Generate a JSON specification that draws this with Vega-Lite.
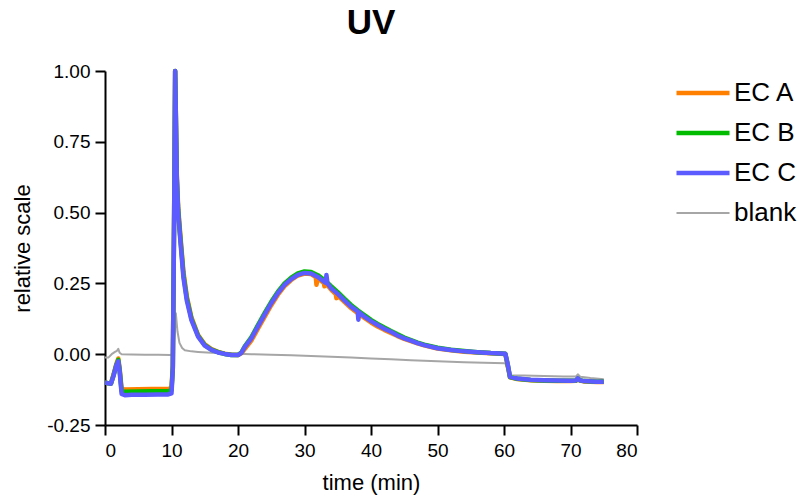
{
  "$schema": "https://vega.github.io/schema/vega-lite/v6.json",
  "width": 532,
  "height": 354,
  "autosize": {"type": "none"},
  "padding": {"left": 105, "top": 71, "right": 160, "bottom": 76},
  "background": "white",
  "title": {"text": "UV", "fontSize": 35, "fontWeight": "bold", "font": "Liberation Sans", "color": "black", "anchor": "middle", "offset": 21},
  "config": {"view": {"stroke": null}, "font": "Liberation Sans"},
  "datasets": {
    "uv": [
      {"s":"blank","t":0,"v":-0.012},{"s":"blank","t":0.5,"v":-0.012},{"s":"blank","t":1,"v":0.0},{"s":"blank","t":1.5,"v":0.008},{"s":"blank","t":1.8,"v":0.012},{"s":"blank","t":2.0,"v":0.019},{"s":"blank","t":2.2,"v":0.005},{"s":"blank","t":2.5,"v":0.0},{"s":"blank","t":4,"v":-0.001},{"s":"blank","t":6,"v":-0.002},{"s":"blank","t":8,"v":-0.002},{"s":"blank","t":9.8,"v":-0.003},{"s":"blank","t":10.2,"v":0.0},{"s":"blank","t":10.5,"v":0.08},{"s":"blank","t":10.65,"v":0.145},{"s":"blank","t":10.9,"v":0.08},{"s":"blank","t":11.2,"v":0.04},{"s":"blank","t":11.6,"v":0.022},{"s":"blank","t":12,"v":0.014},{"s":"blank","t":13,"v":0.01},{"s":"blank","t":14,"v":0.008},{"s":"blank","t":16,"v":0.005},{"s":"blank","t":18,"v":0.003},{"s":"blank","t":20,"v":0.002},{"s":"blank","t":22,"v":0.0},{"s":"blank","t":25,"v":-0.002},{"s":"blank","t":28,"v":-0.004},{"s":"blank","t":31,"v":-0.006},{"s":"blank","t":34,"v":-0.009},{"s":"blank","t":37,"v":-0.012},{"s":"blank","t":40,"v":-0.015},{"s":"blank","t":43,"v":-0.018},{"s":"blank","t":46,"v":-0.021},{"s":"blank","t":50,"v":-0.025},{"s":"blank","t":54,"v":-0.028},{"s":"blank","t":57,"v":-0.03},{"s":"blank","t":60.2,"v":-0.032},{"s":"blank","t":60.6,"v":-0.06},{"s":"blank","t":60.9,"v":-0.074},{"s":"blank","t":63,"v":-0.075},{"s":"blank","t":66,"v":-0.077},{"s":"blank","t":69,"v":-0.079},{"s":"blank","t":70.8,"v":-0.079},{"s":"blank","t":71.1,"v":-0.071},{"s":"blank","t":71.5,"v":-0.08},{"s":"blank","t":73,"v":-0.084},{"s":"blank","t":75,"v":-0.088},

      {"s":"EC A","t":0,"v":-0.1},{"s":"EC A","t":0.5,"v":-0.103},{"s":"EC A","t":0.9,"v":-0.103},{"s":"EC A","t":1.3,"v":-0.07},{"s":"EC A","t":1.7,"v":-0.035},{"s":"EC A","t":2.0,"v":-0.015},{"s":"EC A","t":2.2,"v":-0.05},{"s":"EC A","t":2.5,"v":-0.122},{"s":"EC A","t":3,"v":-0.125},{"s":"EC A","t":5,"v":-0.124},{"s":"EC A","t":7,"v":-0.123},{"s":"EC A","t":9.5,"v":-0.123},{"s":"EC A","t":10.0,"v":-0.12},{"s":"EC A","t":10.2,"v":-0.04},{"s":"EC A","t":10.4,"v":0.5},{"s":"EC A","t":10.55,"v":1.0},{"s":"EC A","t":10.8,"v":0.63},{"s":"EC A","t":11.0,"v":0.52},{"s":"EC A","t":11.3,"v":0.43},{"s":"EC A","t":11.8,"v":0.29},{"s":"EC A","t":12.3,"v":0.205},{"s":"EC A","t":13,"v":0.13},{"s":"EC A","t":14,"v":0.068},{"s":"EC A","t":15,"v":0.035},{"s":"EC A","t":16,"v":0.018},{"s":"EC A","t":17,"v":0.008},{"s":"EC A","t":18,"v":0.002},{"s":"EC A","t":19,"v":-0.002},{"s":"EC A","t":20,"v":-0.003},{"s":"EC A","t":20.5,"v":0.003},{"s":"EC A","t":21,"v":0.018},{"s":"EC A","t":22,"v":0.048},{"s":"EC A","t":23,"v":0.09},{"s":"EC A","t":24,"v":0.132},{"s":"EC A","t":25,"v":0.173},{"s":"EC A","t":26,"v":0.21},{"s":"EC A","t":27,"v":0.24},{"s":"EC A","t":28,"v":0.262},{"s":"EC A","t":29,"v":0.278},{"s":"EC A","t":30,"v":0.285},{"s":"EC A","t":31,"v":0.283},{"s":"EC A","t":31.7,"v":0.272},{"s":"EC A","t":31.8,"v":0.245},{"s":"EC A","t":32,"v":0.268},{"s":"EC A","t":32.9,"v":0.252},{"s":"EC A","t":33.0,"v":0.24},{"s":"EC A","t":33.2,"v":0.25},{"s":"EC A","t":34,"v":0.228},{"s":"EC A","t":34.7,"v":0.212},{"s":"EC A","t":34.8,"v":0.198},{"s":"EC A","t":35,"v":0.207},{"s":"EC A","t":36,"v":0.185},{"s":"EC A","t":37,"v":0.163},{"s":"EC A","t":38,"v":0.145},{"s":"EC A","t":39,"v":0.128},{"s":"EC A","t":40,"v":0.112},{"s":"EC A","t":41,"v":0.098},{"s":"EC A","t":42,"v":0.086},{"s":"EC A","t":43,"v":0.075},{"s":"EC A","t":44,"v":0.064},{"s":"EC A","t":45,"v":0.054},{"s":"EC A","t":46,"v":0.046},{"s":"EC A","t":47,"v":0.038},{"s":"EC A","t":48,"v":0.031},{"s":"EC A","t":50,"v":0.02},{"s":"EC A","t":52,"v":0.014},{"s":"EC A","t":54,"v":0.009},{"s":"EC A","t":56,"v":0.006},{"s":"EC A","t":58,"v":0.003},{"s":"EC A","t":60.2,"v":0.001},{"s":"EC A","t":60.6,"v":-0.045},{"s":"EC A","t":60.9,"v":-0.082},{"s":"EC A","t":62,"v":-0.088},{"s":"EC A","t":64,"v":-0.092},{"s":"EC A","t":66,"v":-0.094},{"s":"EC A","t":68,"v":-0.095},{"s":"EC A","t":70,"v":-0.095},{"s":"EC A","t":70.8,"v":-0.094},{"s":"EC A","t":71.1,"v":-0.087},{"s":"EC A","t":71.4,"v":-0.093},{"s":"EC A","t":72,"v":-0.096},{"s":"EC A","t":74,"v":-0.098},{"s":"EC A","t":75,"v":-0.098},

      {"s":"EC B","t":0,"v":-0.1},{"s":"EC B","t":0.5,"v":-0.103},{"s":"EC B","t":0.9,"v":-0.104},{"s":"EC B","t":1.3,"v":-0.073},{"s":"EC B","t":1.7,"v":-0.038},{"s":"EC B","t":2.0,"v":-0.02},{"s":"EC B","t":2.2,"v":-0.055},{"s":"EC B","t":2.5,"v":-0.13},{"s":"EC B","t":3,"v":-0.133},{"s":"EC B","t":5,"v":-0.132},{"s":"EC B","t":7,"v":-0.131},{"s":"EC B","t":9.5,"v":-0.131},{"s":"EC B","t":10.0,"v":-0.128},{"s":"EC B","t":10.2,"v":-0.045},{"s":"EC B","t":10.4,"v":0.5},{"s":"EC B","t":10.55,"v":1.0},{"s":"EC B","t":10.8,"v":0.62},{"s":"EC B","t":11.0,"v":0.51},{"s":"EC B","t":11.3,"v":0.42},{"s":"EC B","t":11.8,"v":0.28},{"s":"EC B","t":12.3,"v":0.198},{"s":"EC B","t":13,"v":0.125},{"s":"EC B","t":14,"v":0.065},{"s":"EC B","t":15,"v":0.032},{"s":"EC B","t":16,"v":0.016},{"s":"EC B","t":17,"v":0.007},{"s":"EC B","t":18,"v":0.001},{"s":"EC B","t":19,"v":-0.003},{"s":"EC B","t":20,"v":-0.003},{"s":"EC B","t":20.5,"v":0.006},{"s":"EC B","t":21,"v":0.027},{"s":"EC B","t":22,"v":0.06},{"s":"EC B","t":23,"v":0.103},{"s":"EC B","t":24,"v":0.145},{"s":"EC B","t":25,"v":0.185},{"s":"EC B","t":26,"v":0.221},{"s":"EC B","t":27,"v":0.25},{"s":"EC B","t":28,"v":0.27},{"s":"EC B","t":29,"v":0.285},{"s":"EC B","t":30,"v":0.292},{"s":"EC B","t":31,"v":0.29},{"s":"EC B","t":32,"v":0.279},{"s":"EC B","t":33,"v":0.262},{"s":"EC B","t":34,"v":0.24},{"s":"EC B","t":35,"v":0.219},{"s":"EC B","t":36,"v":0.196},{"s":"EC B","t":37,"v":0.174},{"s":"EC B","t":38,"v":0.155},{"s":"EC B","t":39,"v":0.138},{"s":"EC B","t":40,"v":0.121},{"s":"EC B","t":41,"v":0.107},{"s":"EC B","t":42,"v":0.094},{"s":"EC B","t":43,"v":0.082},{"s":"EC B","t":44,"v":0.07},{"s":"EC B","t":45,"v":0.059},{"s":"EC B","t":46,"v":0.05},{"s":"EC B","t":47,"v":0.041},{"s":"EC B","t":48,"v":0.034},{"s":"EC B","t":50,"v":0.023},{"s":"EC B","t":52,"v":0.016},{"s":"EC B","t":54,"v":0.011},{"s":"EC B","t":56,"v":0.007},{"s":"EC B","t":58,"v":0.004},{"s":"EC B","t":60.2,"v":0.002},{"s":"EC B","t":60.6,"v":-0.042},{"s":"EC B","t":60.9,"v":-0.081},{"s":"EC B","t":62,"v":-0.087},{"s":"EC B","t":64,"v":-0.091},{"s":"EC B","t":66,"v":-0.093},{"s":"EC B","t":68,"v":-0.094},{"s":"EC B","t":70,"v":-0.094},{"s":"EC B","t":70.8,"v":-0.093},{"s":"EC B","t":71.1,"v":-0.086},{"s":"EC B","t":71.4,"v":-0.092},{"s":"EC B","t":72,"v":-0.095},{"s":"EC B","t":74,"v":-0.097},{"s":"EC B","t":75,"v":-0.096},

      {"s":"EC C","t":0,"v":-0.1},{"s":"EC C","t":0.5,"v":-0.103},{"s":"EC C","t":0.9,"v":-0.104},{"s":"EC C","t":1.3,"v":-0.075},{"s":"EC C","t":1.7,"v":-0.04},{"s":"EC C","t":2.0,"v":-0.025},{"s":"EC C","t":2.2,"v":-0.06},{"s":"EC C","t":2.5,"v":-0.14},{"s":"EC C","t":3,"v":-0.145},{"s":"EC C","t":4,"v":-0.143},{"s":"EC C","t":6,"v":-0.143},{"s":"EC C","t":8,"v":-0.142},{"s":"EC C","t":9.5,"v":-0.142},{"s":"EC C","t":10.0,"v":-0.138},{"s":"EC C","t":10.2,"v":-0.05},{"s":"EC C","t":10.4,"v":0.5},{"s":"EC C","t":10.55,"v":1.0},{"s":"EC C","t":10.8,"v":0.62},{"s":"EC C","t":11.0,"v":0.5},{"s":"EC C","t":11.3,"v":0.41},{"s":"EC C","t":11.8,"v":0.27},{"s":"EC C","t":12.3,"v":0.19},{"s":"EC C","t":13,"v":0.12},{"s":"EC C","t":14,"v":0.062},{"s":"EC C","t":15,"v":0.03},{"s":"EC C","t":16,"v":0.015},{"s":"EC C","t":17,"v":0.006},{"s":"EC C","t":18,"v":0.001},{"s":"EC C","t":19,"v":-0.003},{"s":"EC C","t":20,"v":-0.003},{"s":"EC C","t":20.5,"v":0.005},{"s":"EC C","t":21,"v":0.025},{"s":"EC C","t":22,"v":0.056},{"s":"EC C","t":23,"v":0.098},{"s":"EC C","t":24,"v":0.14},{"s":"EC C","t":25,"v":0.18},{"s":"EC C","t":26,"v":0.216},{"s":"EC C","t":27,"v":0.245},{"s":"EC C","t":28,"v":0.265},{"s":"EC C","t":29,"v":0.28},{"s":"EC C","t":30,"v":0.287},{"s":"EC C","t":31,"v":0.285},{"s":"EC C","t":32,"v":0.273},{"s":"EC C","t":33,"v":0.255},{"s":"EC C","t":33.2,"v":0.252},{"s":"EC C","t":33.3,"v":0.28},{"s":"EC C","t":33.45,"v":0.25},{"s":"EC C","t":34,"v":0.233},{"s":"EC C","t":35,"v":0.213},{"s":"EC C","t":36,"v":0.19},{"s":"EC C","t":37,"v":0.168},{"s":"EC C","t":38,"v":0.151},{"s":"EC C","t":38.1,"v":0.122},{"s":"EC C","t":38.2,"v":0.148},{"s":"EC C","t":39,"v":0.133},{"s":"EC C","t":40,"v":0.117},{"s":"EC C","t":41,"v":0.103},{"s":"EC C","t":42,"v":0.09},{"s":"EC C","t":43,"v":0.079},{"s":"EC C","t":44,"v":0.066},{"s":"EC C","t":45,"v":0.056},{"s":"EC C","t":46,"v":0.048},{"s":"EC C","t":47,"v":0.039},{"s":"EC C","t":48,"v":0.032},{"s":"EC C","t":50,"v":0.021},{"s":"EC C","t":52,"v":0.015},{"s":"EC C","t":54,"v":0.01},{"s":"EC C","t":56,"v":0.007},{"s":"EC C","t":58,"v":0.004},{"s":"EC C","t":60.2,"v":0.002},{"s":"EC C","t":60.6,"v":-0.04},{"s":"EC C","t":60.9,"v":-0.08},{"s":"EC C","t":62,"v":-0.086},{"s":"EC C","t":64,"v":-0.09},{"s":"EC C","t":66,"v":-0.092},{"s":"EC C","t":68,"v":-0.093},{"s":"EC C","t":70,"v":-0.094},{"s":"EC C","t":70.8,"v":-0.093},{"s":"EC C","t":71.1,"v":-0.085},{"s":"EC C","t":71.4,"v":-0.092},{"s":"EC C","t":72,"v":-0.095},{"s":"EC C","t":74,"v":-0.097},{"s":"EC C","t":75,"v":-0.097}
    ]
  },
  "data": {"name": "uv"},
  "mark": {"type": "line", "strokeJoin": "round", "strokeCap": "butt"},
  "encoding": {
    "x": {
      "field": "t", "type": "quantitative",
      "scale": {"domain": [0, 80], "nice": false, "zero": false},
      "axis": {
        "title": "time (min)", "values": [0, 10, 20, 30, 40, 50, 60, 70, 80], "format": "d",
        "grid": false, "domainColor": "black", "domainWidth": 2, "tickColor": "black", "tickWidth": 2, "tickSize": 10,
        "labelFontSize": 19, "labelColor": "black", "labelPadding": 6, "labelFont": "Liberation Sans",
        "titleFontSize": 22, "titleFontWeight": "normal", "titleColor": "black", "titlePadding": 12, "titleFont": "Liberation Sans"
      }
    },
    "y": {
      "field": "v", "type": "quantitative",
      "scale": {"domain": [-0.25, 1], "nice": false, "zero": false},
      "axis": {
        "title": "relative scale", "values": [-0.25, 0, 0.25, 0.5, 0.75, 1],
        "labelExpr": "replace(format(datum.value, '.2f'), '\u2212', '-')",
        "grid": false, "domainColor": "black", "domainWidth": 2, "tickColor": "black", "tickWidth": 2, "tickSize": 10,
        "labelFontSize": 19, "labelColor": "black", "labelPadding": 5, "labelFont": "Liberation Sans",
        "titleFontSize": 22, "titleFontWeight": "normal", "titleColor": "black", "titlePadding": 12, "titleFont": "Liberation Sans"
      }
    },
    "color": {
      "field": "s", "type": "nominal",
      "scale": {"domain": ["EC A", "EC B", "EC C", "blank"], "range": ["#FF8000", "#00BB00", "#5B5BFF", "#A6A6A6"]},
      "legend": {
        "title": null, "orient": "none", "legendX": 585, "legendY": 9,
        "symbolType": "M-2.65,0H2.65", "symbolSize": 400,
        "labelFontSize": 26, "labelFont": "Liberation Sans", "labelColor": "black", "labelOffset": 18,
        "rowPadding": 14, "padding": 0, "labelLimit": 200
      }
    },
    "strokeWidth": {
      "field": "s", "type": "nominal",
      "scale": {"type": "ordinal", "domain": ["EC A", "EC B", "EC C", "blank"], "range": [4.5, 4.5, 4.5, 2]},
      "legend": {
        "title": null, "orient": "none", "legendX": 585, "legendY": 9,
        "symbolType": "M-2.65,0H2.65", "symbolSize": 400,
        "labelFontSize": 26, "labelFont": "Liberation Sans", "labelColor": "black", "labelOffset": 18,
        "rowPadding": 14, "padding": 0, "labelLimit": 200
      }
    }
  }
}
